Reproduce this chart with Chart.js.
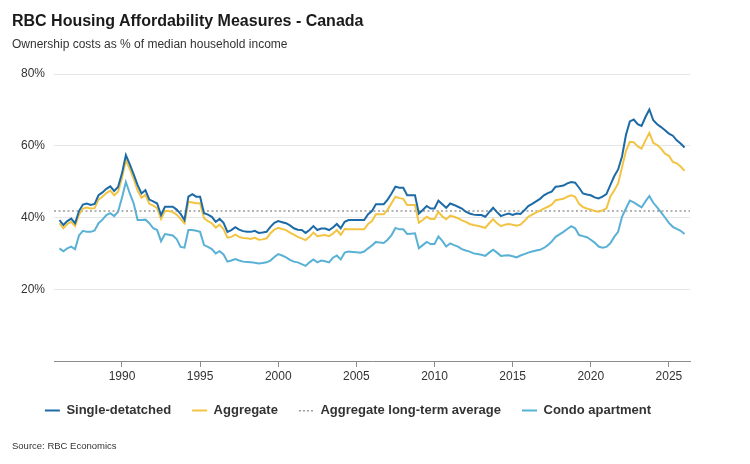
<!DOCTYPE html>
<html>
<head>
<meta charset="utf-8">
<script src="https://cdn.jsdelivr.net/npm/chart.js@4"></script>
<style>
  body { margin: 0; background: #fff; font-family: "Liberation Sans", Arial, sans-serif; }
  #wrap { position: relative; width: 750px; height: 464px; }
  #titulo { position: absolute; left: 12px; top: 12px; font-size: 16px; font-weight: bold; color: #1a1a1a; white-space: nowrap; }
  #subtitulo { position: absolute; left: 12px; top: 37px; font-size: 12px; color: #333; white-space: nowrap; }
  #fuente { position: absolute; left: 12px; top: 440px; font-size: 9.5px; color: #333; white-space: nowrap; }
  canvas { position: absolute; left: 0; top: 0; }
</style>
</head>
<body>
<div id="wrap">
  <canvas id="grafico" width="750" height="464"></canvas>
  <div id="titulo">RBC Housing Affordability Measures - Canada</div>
  <div id="subtitulo">Ownership costs as % of median household income</div>
  <div id="fuente">Source: RBC Economics</div>
</div>
<script>
// Quarterly series, 1986 Q1 to 2026 Q1
const firstYear = 1986;

const singleDetached = [
  39.3, 37.9, 39.0, 39.7, 38.4, 41.8, 43.6, 43.9, 43.5, 43.8, 46.2, 47.0,
  48.0, 48.7, 47.4, 48.5, 52.3, 57.4, 54.8, 52.0, 49.0, 46.7, 47.6, 45.0,
  44.5, 43.9, 40.7, 43.0, 43.0, 43.0, 42.2, 41.0, 39.3, 45.8, 46.5, 45.8,
  45.8, 41.2, 40.8, 40.2, 38.8, 39.6, 38.5, 36.0, 36.5, 37.3, 36.6, 36.2,
  36.0, 36.0, 36.3, 35.7, 35.8, 36.0, 37.4, 38.5, 39.0, 38.7, 38.4, 37.8,
  37.0, 36.6, 36.5, 35.7, 36.5, 37.6, 36.5, 36.9, 36.9, 36.5, 37.2, 38.2,
  37.0, 38.8, 39.3, 39.3, 39.3, 39.3, 39.3, 40.9, 41.8, 43.7, 43.7, 43.7,
  45.0, 46.7, 48.6, 48.3, 48.3, 46.2, 46.2, 46.2, 41.1, 42.1, 43.2, 42.5,
  42.5, 44.7, 43.7, 42.7, 43.9, 43.5, 43.0, 42.5, 41.6, 41.1, 40.8, 40.7,
  40.7, 40.2, 41.5, 42.7, 41.5, 40.4, 40.8, 41.1, 40.7, 41.1, 41.0, 42.0,
  43.2, 43.8, 44.5, 45.2, 46.2, 46.8, 47.2, 48.6, 48.7, 48.9, 49.5, 49.9,
  49.7, 48.3, 46.7, 46.4, 46.2, 45.6, 45.3, 45.8, 46.5, 49.0, 51.5, 53.4,
  57.0, 63.0, 66.8, 67.3, 66.0, 65.5, 68.0, 70.1, 67.1, 66.0, 65.2, 64.3,
  63.4, 62.8, 61.5, 60.6, 59.5
];

const aggregate = [
  38.4, 37.0, 38.2, 38.8, 37.6, 40.8, 42.5, 42.8, 42.5, 42.6, 45.0, 45.8,
  46.8, 47.5, 46.2, 47.2, 51.0, 56.0, 53.5, 50.8, 47.5, 45.5, 46.3, 43.8,
  43.3, 42.6, 39.6, 41.8, 41.8, 41.5, 40.8, 39.6, 38.4, 44.4, 44.2, 44.0,
  44.0, 39.8, 39.0, 38.4, 37.2, 38.0, 36.8, 34.4, 34.6, 35.2, 34.6, 34.3,
  34.2, 34.0, 34.4, 33.8, 33.9, 34.2, 35.6, 36.6, 37.1, 36.8, 36.5, 35.8,
  35.2, 34.6, 34.2, 33.7, 34.6, 35.8, 34.8, 35.0, 35.1, 34.8, 35.5, 36.5,
  35.2, 36.8, 36.7, 36.7, 36.7, 36.7, 36.7, 38.2, 39.0, 40.9, 40.9, 40.9,
  42.2, 44.0, 45.8, 45.4, 45.2, 43.5, 43.5, 43.5, 38.5, 39.3, 40.2, 39.6,
  39.6, 41.6, 40.3, 39.5, 40.5, 40.2, 39.8, 39.2, 38.8, 38.2, 37.9, 37.7,
  37.4, 37.1, 38.4, 39.5, 38.4, 37.6, 38.0, 38.2, 38.0, 37.7, 38.0, 39.0,
  40.2, 40.8, 41.4, 41.9, 42.5, 43.0, 43.6, 44.8, 45.0, 45.2, 45.8, 46.2,
  45.8, 43.8, 42.9, 42.5, 42.2, 41.8, 41.6, 42.0, 42.5, 45.8, 47.5, 49.5,
  54.0, 58.5, 61.1, 61.0, 59.8, 59.2, 61.5, 63.6, 60.8, 60.2, 59.2, 57.8,
  57.2, 55.5, 55.1, 54.2, 53.0
];

const condo = [
  31.4, 30.6, 31.4, 31.9, 31.2, 35.0, 36.3, 36.0, 36.0, 36.4, 38.4, 39.4,
  40.7, 41.2, 40.4, 41.6, 45.5, 49.9, 46.7, 43.9, 39.3, 39.3, 39.4, 38.4,
  37.0, 36.5, 33.4, 35.4, 35.2, 35.0, 34.0, 31.8, 31.6, 36.5, 36.5, 36.3,
  36.0, 32.3, 31.8, 31.2, 30.0, 30.6, 29.7, 27.7, 28.0, 28.4, 28.0, 27.7,
  27.6, 27.5, 27.4, 27.2, 27.3, 27.5, 28.0, 29.0, 29.8, 29.4, 28.9, 28.2,
  27.7, 27.5, 27.0, 26.5, 27.5, 28.3, 27.5, 28.0, 27.8, 27.5, 28.8, 29.4,
  28.3, 30.2, 30.5, 30.4, 30.3, 30.2, 30.5, 31.4, 32.2, 33.2, 33.0, 32.9,
  33.8, 35.1, 37.1, 36.7, 36.7, 35.4, 35.5, 35.6, 31.4, 32.3, 33.2, 32.6,
  32.6, 34.7, 33.5, 31.9, 32.8, 32.3, 31.9, 31.2, 30.8, 30.5, 30.0, 29.8,
  29.6, 29.3, 30.2, 31.0, 30.2, 29.3, 29.4, 29.5, 29.2, 28.9, 29.4, 29.8,
  30.2, 30.5, 30.8, 31.0, 31.5, 32.3, 33.3, 34.6, 35.3, 36.0, 36.8, 37.6,
  37.0, 35.1, 34.8, 34.5, 33.8, 33.0, 31.9, 31.6, 31.8, 32.8, 34.6, 36.0,
  40.2, 42.5, 44.7, 44.2, 43.5, 42.8, 44.5, 46.0, 44.1, 42.8, 41.4, 40.0,
  38.5, 37.4, 36.8, 36.3, 35.4
];

const longTermAverage = 41.8;

const xTicks = [1990, 1995, 2000, 2005, 2010, 2015, 2020, 2025];
const yTicks = [20, 40, 60, 80];
const xMin = 1985.65;
const xMax = 2026.35;

const colorSD = "#1c6aa6";
const colorAgg = "#f3c443";
const colorCondo = "#5ab1d6";
const colorAvg = "#9a9a9a";

// pasar cada serie a puntos {x, y}, un punto por trimestre
const toPoints = (serie) => serie.map((v, i) => ({ x: firstYear + i / 4, y: v }));

// marcador punteado para la leyenda (la leyenda con pointStyle no usa borderDash)
const dotMarker = document.createElement("canvas");
dotMarker.width = 15;
dotMarker.height = 3;
const dctx = dotMarker.getContext("2d");
dctx.fillStyle = colorAvg;
for (let px = 0; px < 15; px += 4) {
  dctx.fillRect(px, 1, 2, 1.5);
}

const fontBase = "'Liberation Sans', Arial, sans-serif";

new Chart(document.getElementById("grafico"), {
  type: "line",
  data: {
    datasets: [
      {
        label: "Single-detatched",
        data: toPoints(singleDetached),
        borderColor: colorSD,
        backgroundColor: colorSD,
        borderWidth: 2,
        pointRadius: 0,
        pointStyle: "line",
      },
      {
        label: "Aggregate",
        data: toPoints(aggregate),
        borderColor: colorAgg,
        backgroundColor: colorAgg,
        borderWidth: 2,
        pointRadius: 0,
        pointStyle: "line",
      },
      {
        label: "Aggregate long-term average",
        data: [
          { x: xMin, y: longTermAverage },
          { x: xMax, y: longTermAverage },
        ],
        borderColor: colorAvg,
        backgroundColor: colorAvg,
        borderWidth: 1.5,
        borderDash: [2, 2.5],
        pointRadius: 0,
        pointStyle: dotMarker,
      },
      {
        label: "Condo apartment",
        data: toPoints(condo),
        borderColor: colorCondo,
        backgroundColor: colorCondo,
        borderWidth: 2,
        pointRadius: 0,
        pointStyle: "line",
      },
    ],
  },
  options: {
    responsive: false,
    animation: false,
    devicePixelRatio: 1,
    layout: {
      padding: { top: 74, left: 0, right: 54, bottom: 37 },
    },
    plugins: {
      tooltip: { enabled: false },
      legend: {
        position: "bottom",
        labels: {
          usePointStyle: true,
          pointStyleWidth: 15,
          padding: 21,
          color: "#333",
          font: { family: fontBase, size: 13, weight: "bold" },
        },
      },
    },
    scales: {
      x: {
        type: "linear",
        min: xMin,
        max: xMax,
        afterBuildTicks: (scale) => {
          scale.ticks = xTicks.map((v) => ({ value: v }));
        },
        afterFit: (scale) => {
          scale.height = 22;
        },
        grid: {
          drawOnChartArea: false,
          drawTicks: true,
          tickLength: 6,
          tickColor: "#8c8c8c",
        },
        border: { display: true, color: "#8c8c8c", width: 1 },
        ticks: {
          padding: 2,
          maxRotation: 0,
          color: "#333",
          font: { family: fontBase, size: 12 },
          callback: (v) => String(v),
        },
      },
      y: {
        min: 0,
        max: 80,
        afterBuildTicks: (scale) => {
          scale.ticks = yTicks.map((v) => ({ value: v }));
        },
        afterFit: (scale) => {
          scale.width = 54;
        },
        grid: { color: "#e6e6e6", drawTicks: false },
        border: { display: false },
        ticks: {
          padding: 9,
          color: "#333",
          font: { family: fontBase, size: 12 },
          callback: (v) => v + "%",
        },
      },
      // eje vacío a la derecha, solo para dejar el área del gráfico en su lugar
      y2: {
        position: "right",
        grid: { display: false },
        border: { display: false },
        ticks: { display: false },
        afterFit: (scale) => {
          scale.width = 6;
        },
      },
    },
  },
});
</script>
</body>
</html>
